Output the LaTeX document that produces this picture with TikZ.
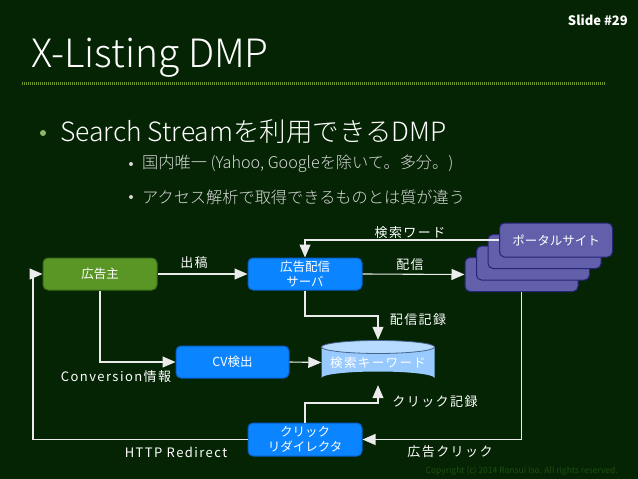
\documentclass[tikz,border=0pt]{standalone}
\usepackage{fontspec}
\setmainfont{Noto Sans CJK JP}
\IfFontExistsTF{Noto Sans CJK JP Light}{\newfontfamily\ltfont{Noto Sans CJK JP Light}}{\newfontfamily\ltfont{Noto Sans CJK JP}}
\newfontfamily\spfont{Noto Sans CJK JP}[LetterSpace=11]
\usetikzlibrary{arrows.meta}
\definecolor{bg}{RGB}{4,36,4}
\definecolor{grn}{RGB}{90,150,38}
\definecolor{grnd}{RGB}{60,110,25}
\definecolor{blu}{RGB}{10,132,255}
\definecolor{blud}{RGB}{10,95,200}
\definecolor{pur}{RGB}{98,96,170}
\definecolor{purd}{RGB}{40,36,120}
\definecolor{cyl}{RGB}{153,202,255}
\definecolor{cylt}{RGB}{182,219,255}
\definecolor{cyld}{RGB}{70,100,140}
\definecolor{linec}{RGB}{235,235,235}
\definecolor{rulec}{RGB}{112,152,42}
\definecolor{copyc}{RGB}{32,78,16}
\definecolor{bulc}{RGB}{140,185,100}
\definecolor{subc}{RGB}{215,215,215}
\tikzset{
  box/.style={rounded corners=5pt, minimum width=114pt, minimum height=32pt, text=white,
    font=\fontsize{12.5}{14.5}\selectfont, align=center, inner sep=0pt, line width=1pt},
  gbox/.style={box, fill=grn, draw=grnd},
  bbox/.style={box, fill=blu, draw=blud},
  pbox/.style={box, fill=pur, draw=purd, minimum width=113pt, minimum height=34pt},
  arr/.style={draw=linec, line width=1.1pt, -{Triangle[length=13pt,width=11pt]}},
  lbl/.style={text=white, font=\spfont\fontsize{13}{15}\selectfont, inner sep=0pt},
}
\begin{document}
\begin{tikzpicture}[x=1pt,y=-1pt]
\fill[bg] (0,0) rectangle (638,479);
\useasboundingbox (0,0) rectangle (638,479);
% header
\node[anchor=east, text=white, font=\fontsize{13}{15}\bfseries\selectfont, inner sep=0pt] (slide) at (628,20) {Slide \#29};
\node[anchor=west, text=white, font=\ltfont\fontsize{39}{44}\selectfont, inner sep=0pt] (title) at (31,58) {X-Listing DMP};
\draw[rulec, line width=3pt, dash pattern=on 1pt off 1pt] (22,83) -- (605,83);
% bullets
\fill[bulc] (43,133) circle (3pt);
\node[anchor=west, text=white, font=\ltfont\fontsize{26.5}{30}\selectfont, inner sep=0pt] (b1) at (60,132) {Search Streamを利用できるDMP};
\fill[subc] (131,164) circle (2pt);
\node[anchor=west, text=subc, font=\ltfont\fontsize{16.2}{19}\selectfont, inner sep=0pt] (b2) at (142,164) {国内唯一 (Yahoo, Googleを除いて。多分。)};
\fill[subc] (131,197) circle (2pt);
\node[anchor=west, text=subc, font=\ltfont\fontsize{16.2}{19}\selectfont, inner sep=0pt] (b3) at (142,197) {アクセス解析で取得できるものとは質が違う};
% boxes
\node[gbox] (adv) at (100,274) {広告主};
\node[bbox] (srv) at (305,274) {広告配信\\サーバ};
\node[bbox, minimum width=113pt] (cv) at (232.5,362) {CV検出};
\node[bbox, minimum height=33pt] (red) at (305,439.5) {クリック\\リダイレクタ};
% portal stack
\node[pbox] (p4) at (521.5,274.5) {};
\node[pbox] (p3) at (533,263) {};
\node[pbox] (p2) at (544.5,251.5) {};
\node[pbox] (p1) at (556,240) {ポータルサイト};
% cylinder
\fill[cyl] (321.5,347) -- (321.5,378) arc[start angle=180, end angle=360, x radius=56.5, y radius=6.5] -- (434.5,347) -- cycle;
\draw[cyld, fill=cylt, line width=0.8pt] (378,347) ellipse[x radius=56.5, y radius=6.5];
\node[minimum width=113pt, minimum height=45pt, inner sep=0pt, text=white, font=\spfont\fontsize{12.5}{14}\selectfont] (kw) at (378,362.5) {検索キーワード};
% helper coordinates
\coordinate (m1) at (340,316);
\coordinate (m2) at (340,403);
\coordinate (m3) at (33,350);
% connectors
\draw[arr] (adv.east) -- (srv.west);
\draw[arr] (srv.east) -- (p4.west);
\draw[arr] (p1.west) -| (srv.north);
\draw[arr] (srv.south) |- (m1) -| (kw.north);
\draw[arr] (adv.south) |- (cv.west);
\draw[arr] (cv.east) -- (kw.west);
\draw[arr] (p4.south) |- (red.east);
\draw[arr] (red.north) |- (m2) -| (kw.south);
\draw[arr] (red.west) -| (m3) |- (adv.west);
% labels
\node[lbl] (l1) at (194,263) {出稿};
\node[lbl] (l2) at (410,265) {配信};
\node[lbl] (l3) at (410,233) {検索ワード};
\node[lbl] (l4) at (418,320) {配信記録};
\node[lbl] (l5) at (116,377) {Conversion情報};
\node[lbl] (l6) at (435,402) {クリック記録};
\node[lbl] (l7) at (176,452) {HTTP Redirect};
\node[lbl] (l8) at (450,452) {広告クリック};
% copyright
\node[anchor=east, text=copyc, font=\fontsize{8.5}{10}\selectfont, inner sep=0pt] (copy) at (618,471) {Copyright (c) 2014 Ransui Iso. All rights reserved.};
\end{tikzpicture}
\end{document}
